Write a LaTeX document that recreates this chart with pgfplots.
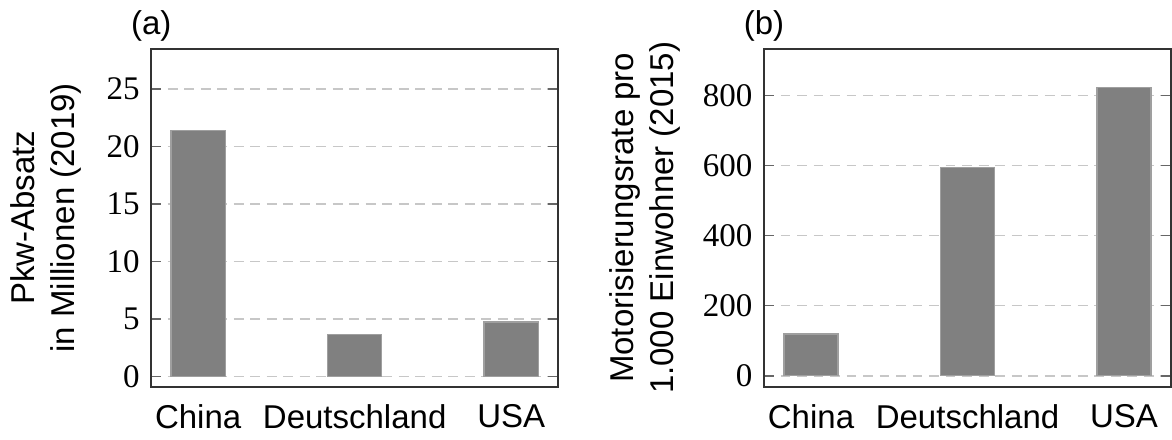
\documentclass[border=0pt]{standalone}
\usepackage{pgfplots}
\pgfplotsset{compat=1.18}
\usepackage{fontspec}
\setmainfont{Liberation Sans}
\newfontfamily\serifnum{Liberation Serif}
\begin{document}
\begin{tikzpicture}
\pgfplotsset{
  mybars/.style={
    scale only axis,
    width=123.3pt, height=102.4pt,
    xmin=-0.3, xmax=2.3,
    xtick={0,1,2},
    xticklabels={China,Deutschland,USA},
    xtick style={draw=none},
    xticklabel style={yshift=-1.8pt},
    ytick style={black!60, line width=0.5pt},
    major tick length=3pt,
    yticklabel style={font=\serifnum},
    /pgf/number format/assume math mode=true,
    ymajorgrids,
    grid style={black!22, dash pattern=on 3pt off 2pt, line width=0.5pt},
    axis line style={black!80, line width=0.6pt},
    title style={at={(axis description cs:0,1)}, anchor=base, yshift=-1.8pt},
    ylabel style={align=center, rotate=0, anchor=south},
    axis on top=false,
  },
  mybar/.style={ybar, bar width=16.4pt, fill=gray, draw=gray!75, line width=0.4pt},
}
\begin{axis}[mybars,
  ymin=-0.9, ymax=28.5,
  ytick={0,5,10,15,20,25},
  title={(a)},
  ylabel={Pkw-Absatz\\in Millionen (2019)},
  ylabel style={at={(axis description cs:-0.143,0.5)}},
]
\addplot[mybar] coordinates {(0,21.4) (1,3.62) (2,4.73)};
\end{axis}
\begin{axis}[mybars, xshift=185.7pt,
  ymin=-31.4, ymax=933,
  ytick={0,200,400,600,800},
  title={(b)},
  ylabel={Motorisierungsrate pro\\1.000 Einwohner (2015)},
  ylabel style={at={(axis description cs:-0.178,0.5)}},
]
\addplot[mybar] coordinates {(0,119) (1,594) (2,822)};
\end{axis}
\end{tikzpicture}
\end{document}
